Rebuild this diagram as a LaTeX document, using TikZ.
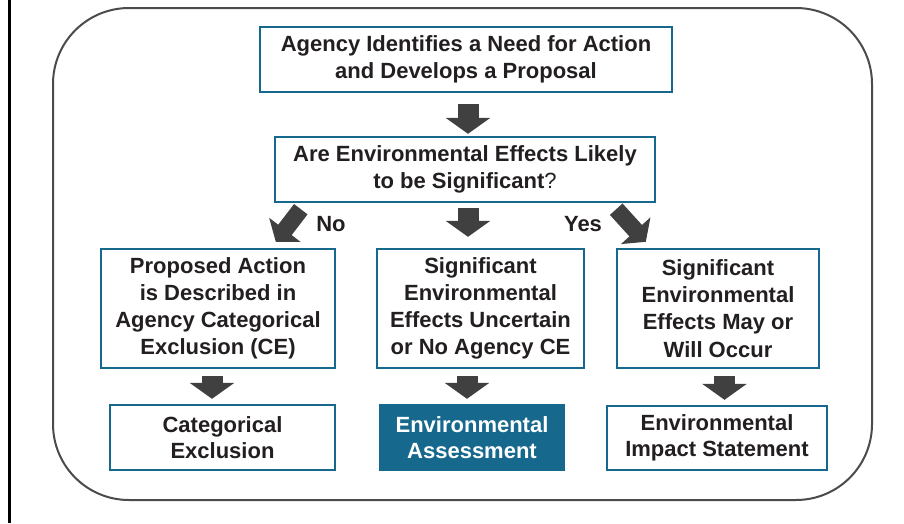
\documentclass[tikz,border=0pt]{standalone}
\usepackage{fontspec}
\setmainfont{Liberation Sans}
\usetikzlibrary{arrows.meta, calc}
\definecolor{boxteal}{RGB}{22,104,140}
\definecolor{arrowgray}{RGB}{64,64,64}
\definecolor{textdark}{RGB}{35,31,32}
\definecolor{framegray}{RGB}{75,75,75}

\begin{document}
\begin{tikzpicture}[x=1pt, y=-1pt,
    box/.style={draw=boxteal, line width=2.4pt, fill=white, align=center, text=textdark,
      font=\fontsize{22}{26.5}\selectfont\bfseries, inner sep=0pt},
    tallbox/.style={box, font=\fontsize{22}{27.2}\selectfont\bfseries, minimum height=119pt},
    bigarrow/.style={draw=arrowgray, line width=21pt, -{Triangle[width=44pt, length=16pt]}},
    slantarrow/.style={draw=arrowgray, line width=17pt, -{Triangle[width=39pt, length=15pt]}},
    label/.style={text=textdark, font=\fontsize{22}{26}\selectfont\bfseries}]
    \useasboundingbox (0,0) rectangle (904,523);
    \draw[line width=2.5pt] (9.5,0) -- (9.5,523);
    \draw[framegray, line width=2pt, rounded corners=76pt] (53,8) rectangle (872,500);

    \node[box, minimum width=412pt, minimum height=65pt] (need) at (466,59.5)
        {Agency Identifies a Need for Action\\and Develops a Proposal};
    \node[box, minimum width=380pt, minimum height=65pt] (likely) at (465,169.5)
        {Are Environmental Effects Likely\\to be Significant{\mdseries ?}};
    \node[tallbox, minimum width=234pt] (catdesc) at (218,308.5)
        {Proposed Action\\is Described in\\Agency Categorical\\Exclusion (CE)};
    \node[tallbox, minimum width=207pt] (uncertain) at (480.5,308.5)
        {Significant\\Environmental\\Effects Uncertain\\or No Agency CE};
    \node[tallbox, minimum width=202pt] (occur) at (718,308.5)
        {Significant\\Environmental\\Effects May or\\Will Occur};
    \node[box, minimum width=225pt, minimum height=65pt] (ce) at (222.5,437.5)
        {Categorical\\Exclusion};
    \node[box, fill=boxteal, text=white, minimum width=184pt, minimum height=65pt] (ea) at (472,437.5)
        {Environmental\\Assessment};
    \node[box, minimum width=220pt, minimum height=64pt] (eis) at (717,438)
        {Environmental\\Impact Statement};

    \node[label] (no) at (331,224) {No};
    \node[label] (yes) at (583,224) {Yes};

    \draw[bigarrow, shorten <=11pt, shorten >=2pt] ([xshift=2pt]need.south) -- ([xshift=3pt]likely.north);
    \draw[bigarrow, shorten <=5pt, shorten >=11pt] ([xshift=3pt]likely.south) -- ([xshift=-12.5pt]uncertain.north);
    \draw[slantarrow] ($(likely.south west)+(27,6)$) -- ($(catdesc.north west)+(176,-6)$);
    \draw[slantarrow] ($(likely.south east)+(-40,6)$) -- ($(occur.north west)+(30,-6)$);
    \draw[bigarrow, shorten <=7pt, shorten >=5pt] ([xshift=-6pt]catdesc.south) -- ([xshift=-10.5pt]ce.north);
    \draw[bigarrow, shorten <=7pt, shorten >=5pt] ([xshift=-13.5pt]uncertain.south) -- ([xshift=-5pt]ea.north);
    \draw[bigarrow, shorten <=7pt, shorten >=5pt] ([xshift=6.5pt]occur.south) -- ([xshift=7.5pt]eis.north);
\end{tikzpicture}
\end{document}
